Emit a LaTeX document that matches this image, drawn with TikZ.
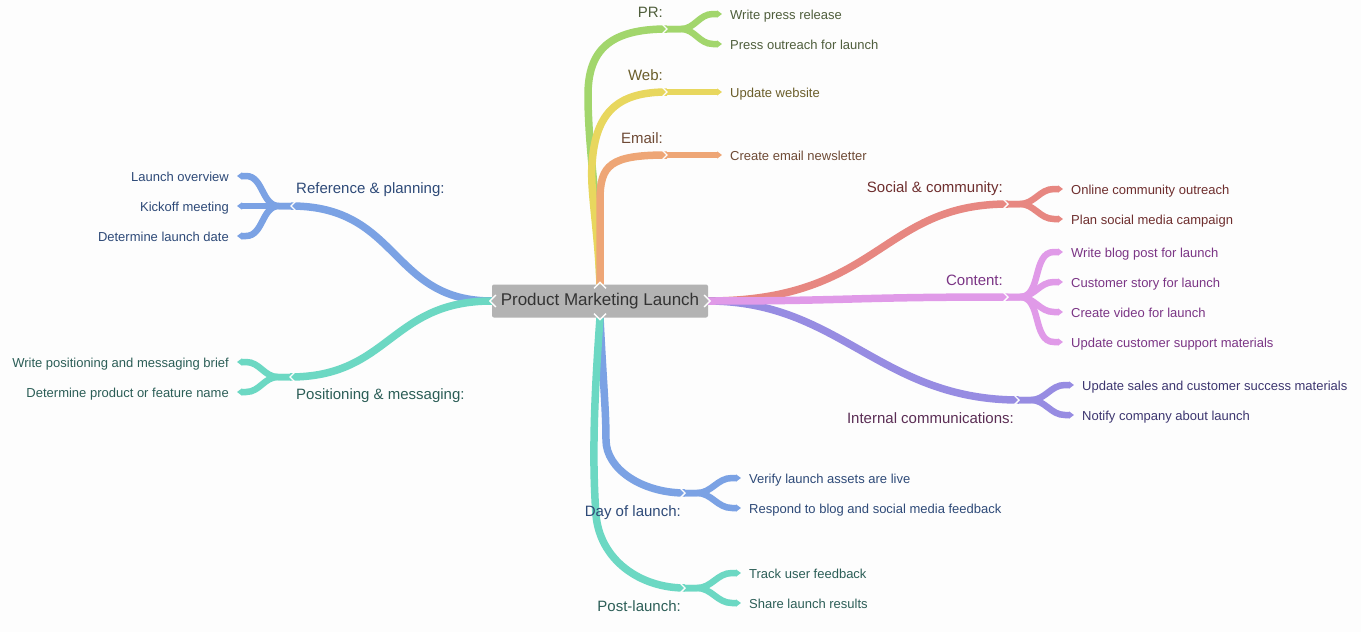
\documentclass[tikz,border=0pt]{standalone}
\usepackage{fontspec}
\setmainfont{Liberation Sans}
\usetikzlibrary{arrows.meta}

\pgfdeclarelayer{back}
\pgfdeclarelayer{bg}
\pgfsetlayers{back,bg,main}

\definecolor{paper}{HTML}{FDFDFD}
\definecolor{centergray}{HTML}{B3B3B3}
\definecolor{prgreen}{HTML}{A2D66C}
\definecolor{webyellow}{HTML}{E8D75E}
\definecolor{mailorange}{HTML}{EEA676}
\definecolor{socialred}{HTML}{E78781}
\definecolor{contentpink}{HTML}{E09AE8}
\definecolor{internalpurple}{HTML}{978CE2}
\definecolor{refblue}{HTML}{7BA2E4}
\definecolor{posteal}{HTML}{6CD8C3}
\definecolor{prtext}{HTML}{4F5E3C}
\definecolor{webtext}{HTML}{6B5E2B}
\definecolor{mailtext}{HTML}{6E4A35}
\definecolor{socialtext}{HTML}{6E2E2E}
\definecolor{contenttext}{HTML}{7B3585}
\definecolor{internaltext}{HTML}{3D3670}
\definecolor{internallabel}{HTML}{5B2E55}
\definecolor{reftext}{HTML}{2E4A78}
\definecolor{postext}{HTML}{2C5E57}

\begin{document}
\begin{tikzpicture}[x=1pt,y=-1pt,
                branch/.style={line width=7.5pt},
                twig/.style={line width=6.5pt,-{Triangle[length=5pt,width=7pt]}},
                item/.style={inner sep=0pt,text height=11pt,text depth=0.2pt,font=\fontsize{13}{15}\selectfont},
                topic/.style={inner sep=0pt,font=\fontsize{15}{18}\selectfont},
                notch/.style={paper,line width=1.4pt}]

\begin{pgfonlayer}{back}
\fill[paper] (0,0) rectangle (1361,632);
\end{pgfonlayer}

% centre
\node[fill=centergray,rounded corners=2pt,minimum width=216pt,minimum height=33pt,
      text=black!80,font=\fontsize{17}{20}\selectfont] (PML) at (600,301) {Product Marketing Launch};

% junctions
\coordinate (PRJ) at (667,29);
\coordinate (WEBJ) at (667,92);
\coordinate (MAILJ) at (667,155);
\coordinate (SOCJ) at (1008,204);
\coordinate (CONJ) at (1008,297);
\coordinate (INTJ) at (1019,400);
\coordinate (REFJ) at (291,206);
\coordinate (POSJ) at (290,377);
\coordinate (DAYJ) at (685,493);
\coordinate (POSTJ) at (685,588);

% 1 PR
\node[topic,text=prtext,anchor=base east] (PRT) at (663,17) {PR:};
\node[item,text=prtext,anchor=west] (PR1) at (730,14) {Write press release};
\node[item,text=prtext,anchor=west] (PR2) at (730,44) {Press outreach for launch};

% 2 Web
\node[topic,text=webtext,anchor=base east] (WEBT) at (663,80) {Web:};
\node[item,text=webtext,anchor=west] (WEB1) at (730,92) {Update website};

% 3 Email
\node[topic,text=mailtext,anchor=base east] (MAILT) at (663,143) {Email:};
\node[item,text=mailtext,anchor=west] (MAIL1) at (730,155) {Create email newsletter};

% 4 Social
\node[topic,text=socialtext,anchor=base east] (SOCT) at (1003,192) {Social \& community:};
\node[item,text=socialtext,anchor=west] (SOC1) at (1071,189) {Online community outreach};
\node[item,text=socialtext,anchor=west] (SOC2) at (1071,219) {Plan social media campaign};

% 5 Content
\node[topic,text=contenttext,anchor=base east] (CONT) at (1003,285) {Content:};
\node[item,text=contenttext,anchor=west] (CON1) at (1071,252) {Write blog post for launch};
\node[item,text=contenttext,anchor=west] (CON2) at (1071,282) {Customer story for launch};
\node[item,text=contenttext,anchor=west] (CON3) at (1071,312) {Create video for launch};
\node[item,text=contenttext,anchor=west] (CON4) at (1071,342) {Update customer support materials};

% 6 Internal
\node[topic,text=internallabel,anchor=base east] (INTT) at (1014,423) {Internal communications:};
\node[item,text=internaltext,anchor=west] (INT1) at (1082,385) {Update sales and customer success materials};
\node[item,text=internaltext,anchor=west] (INT2) at (1082,415) {Notify company about launch};

% 7 Reference
\node[topic,text=reftext,anchor=base west] (REFT) at (296,193) {Reference \& planning:};
\node[item,text=reftext,anchor=east] (REF1) at (229,176) {Launch overview};
\node[item,text=reftext,anchor=east] (REF2) at (229,206) {Kickoff meeting};
\node[item,text=reftext,anchor=east] (REF3) at (229,236) {Determine launch date};

% 8 Positioning
\node[topic,text=postext,anchor=base west] (POST) at (296,399) {Positioning \& messaging:};
\node[item,text=postext,anchor=east] (POS1) at (229,362) {Write positioning and messaging brief};
\node[item,text=postext,anchor=east] (POS2) at (229,392) {Determine product or feature name};

% 9 Day of launch
\node[topic,text=reftext,anchor=base east] (DAYT) at (681,516) {Day of launch:};
\node[item,text=reftext,anchor=west] (DAY1) at (749,478) {Verify launch assets are live};
\node[item,text=reftext,anchor=west] (DAY2) at (749,508) {Respond to blog and social media feedback};

% 10 Post-launch
\node[topic,text=postext,anchor=base east] (POSTT) at (681,611) {Post-launch:};
\node[item,text=postext,anchor=west] (POST1) at (749,573) {Track user feedback};
\node[item,text=postext,anchor=west] (POST2) at (749,603) {Share launch results};

\begin{pgfonlayer}{bg}
% branches up
\draw[branch,prgreen] (PML.north) .. controls (598,200) and (588,150) .. (588,95) .. controls (588,50) and (610,29) .. (PRJ);
\draw[branch,webyellow] (PML.north) .. controls (598,230) and (590,190) .. (592,165) .. controls (595,110) and (620,92) .. (WEBJ);
\draw[branch,mailorange] (PML.north) -- (600,200) .. controls (600,165) and (610,155) .. (MAILJ);
% branches right
\draw[branch,socialred] (PML.east) .. controls (880,301) and (880,204) .. (SOCJ);
\draw[branch,internalpurple] (PML.east) .. controls (840,301) and (880,400) .. (INTJ);
\draw[branch,contentpink] (PML.east) .. controls (850,301) and (850,297) .. (CONJ);
% branches left
\draw[branch,refblue] (PML.west) .. controls (390,301) and (400,206) .. (REFJ);
\draw[branch,posteal] (PML.west) .. controls (390,301) and (390,377) .. (POSJ);
% branches down
\draw[branch,refblue] (PML.south) .. controls (603,380) and (606,410) .. (606,440) .. controls (606,469) and (642,493) .. (DAYJ);
\draw[branch,posteal] (PML.south) .. controls (594,400) and (592,460) .. (596,515) .. controls (600,560) and (640,588) .. (POSTJ);

% twigs
\draw[twig,prgreen] (PRJ) -- ++(14,0) to[out=0,in=180] ([xshift=-17pt]PR1.west) -- ([xshift=-8pt]PR1.west);
\draw[twig,prgreen] (PRJ) -- ++(14,0) to[out=0,in=180] ([xshift=-17pt]PR2.west) -- ([xshift=-8pt]PR2.west);
\draw[twig,webyellow] (WEBJ) -- ([xshift=-8pt]WEB1.west);
\draw[twig,mailorange] (MAILJ) -- ([xshift=-8pt]MAIL1.west);
\foreach \leaf in {SOC1,SOC2}
  \draw[twig,socialred] (SOCJ) -- ++(12,0) to[out=0,in=180] ([xshift=-17pt]\leaf.west) -- ([xshift=-8pt]\leaf.west);
\foreach \leaf in {CON1,CON2,CON3,CON4}
  \draw[twig,contentpink] (CONJ) -- ++(12,0) to[out=0,in=180] ([xshift=-17pt]\leaf.west) -- ([xshift=-8pt]\leaf.west);
\foreach \leaf in {INT1,INT2}
  \draw[twig,internalpurple] (INTJ) -- ++(12,0) to[out=0,in=180] ([xshift=-17pt]\leaf.west) -- ([xshift=-8pt]\leaf.west);
\foreach \leaf in {REF1,REF3}
  \draw[twig,refblue] (REFJ) -- ++(-12,0) to[out=180,in=0] ([xshift=17pt]\leaf.east) -- ([xshift=8pt]\leaf.east);
\draw[twig,refblue] (REFJ) -- ([xshift=8pt]REF2.east);
\foreach \leaf in {POS1,POS2}
  \draw[twig,posteal] (POSJ) -- ++(-12,0) to[out=180,in=0] ([xshift=17pt]\leaf.east) -- ([xshift=8pt]\leaf.east);
\foreach \leaf in {DAY1,DAY2}
  \draw[twig,refblue] (DAYJ) -- ++(12,0) to[out=0,in=180] ([xshift=-17pt]\leaf.west) -- ([xshift=-8pt]\leaf.west);
\foreach \leaf in {POST1,POST2}
  \draw[twig,posteal] (POSTJ) -- ++(12,0) to[out=0,in=180] ([xshift=-17pt]\leaf.west) -- ([xshift=-8pt]\leaf.west);
\end{pgfonlayer}

% notches
\foreach \j in {PRJ,WEBJ,MAILJ,SOCJ,CONJ,INTJ,DAYJ,POSTJ}
  \draw[notch] ([shift={(-5,-5)}]\j) -- (\j) -- ([shift={(-5,5)}]\j);
\foreach \j in {REFJ,POSJ}
  \draw[notch] ([shift={(5,-5)}]\j) -- (\j) -- ([shift={(5,5)}]\j);
\draw[notch] ([shift={(4,-6)}]PML.west) -- ([shift={(-2,0)}]PML.west) -- ([shift={(4,6)}]PML.west);
\draw[notch] ([shift={(-4,-6)}]PML.east) -- ([shift={(2,0)}]PML.east) -- ([shift={(-4,6)}]PML.east);
\draw[notch] ([shift={(-6,4)}]PML.north) -- ([shift={(0,-2)}]PML.north) -- ([shift={(6,4)}]PML.north);
\draw[notch] ([shift={(-6,-4)}]PML.south) -- ([shift={(0,2)}]PML.south) -- ([shift={(6,-4)}]PML.south);

\end{tikzpicture}
\end{document}
